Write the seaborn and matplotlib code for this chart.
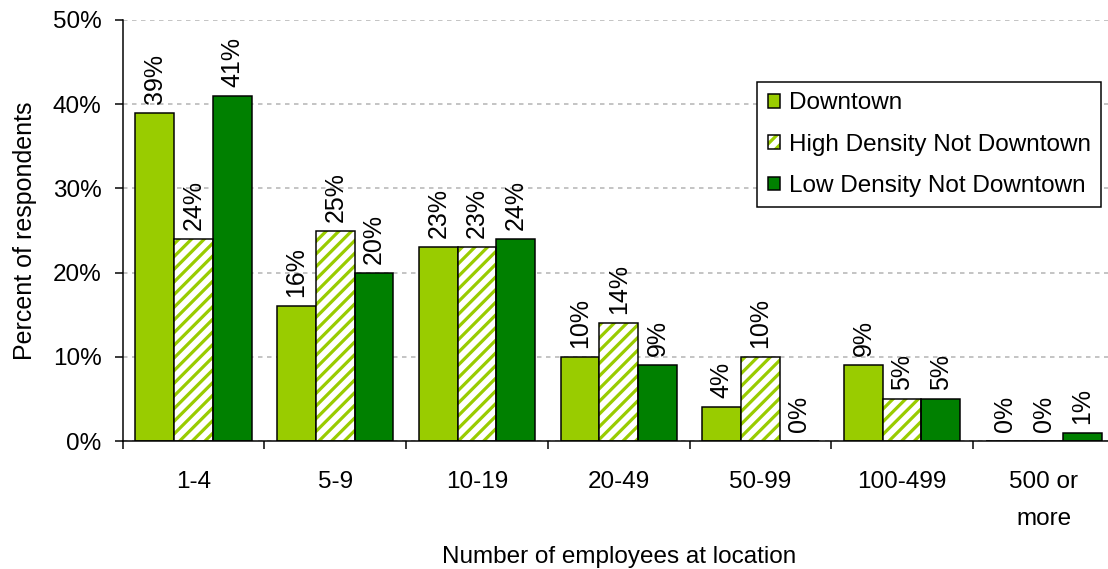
import numpy as np
import pandas as pd
import matplotlib
matplotlib.use("Agg")
import matplotlib.pyplot as plt
from matplotlib.patches import Patch, Rectangle
import seaborn as sns

# Survey results: share of respondents by number of employees at location
categories = ["1-4", "5-9", "10-19", "20-49", "50-99", "100-499", "500 or\nmore"]
downtown = [39, 16, 23, 10, 4, 9, 0]
high_density = [24, 25, 23, 14, 10, 5, 0]
low_density = [41, 20, 24, 9, 0, 5, 1]
series_names = ["Downtown", "High Density Not Downtown", "Low Density Not Downtown"]
yticks = [0, 10, 20, 30, 40, 50]

LIME = "#99CC00"
DARK = "#008000"

# Work in pixels: the hatch tile is one inch, so the dpi sets the stripe spacing
DPI = 152
W, H = 1108, 569


def px(v):
    """Convert a length in pixels to points."""
    return v * 72 / DPI


sns.set_style("white")
plt.rcParams["font.family"] = ["Liberation Sans", "DejaVu Sans"]
plt.rcParams["hatch.linewidth"] = px(3.2)
for key in ["text.color", "axes.labelcolor", "xtick.color", "ytick.color"]:
    plt.rcParams[key] = "black"

values = {series_names[0]: downtown, series_names[1]: high_density, series_names[2]: low_density}
df = pd.DataFrame(
    [(cat, name, vals[i]) for name, vals in values.items() for i, cat in enumerate(categories)],
    columns=["size", "location", "pct"],
)

FS = px(24.3)    # axis text
FS_LBL = px(25)  # value labels
EDGE = px(1.5)
HATCH = "////"

fig = plt.figure(figsize=(W / DPI, H / DPI), dpi=DPI)
ax = fig.add_axes([122.7 / W, 1 - 441 / H, 992 / W, 421 / H])

sns.barplot(
    data=df, x="size", y="pct", hue="location",
    order=categories, hue_order=series_names,
    palette=[LIME, "white", DARK], saturation=1, width=0.82,
    edgecolor="black", linewidth=EDGE, errorbar=None, legend=False, ax=ax,
)

# striped series: lime hatch on white, with a black outline on top
for bar in ax.containers[1]:
    bar.set_hatch(HATCH)
    bar.set_edgecolor(LIME)
    bar.set_linewidth(0)
    ax.add_patch(Rectangle(bar.get_xy(), bar.get_width(), bar.get_height(),
                           fill=False, edgecolor="black", linewidth=EDGE,
                           zorder=bar.get_zorder() + 0.1))

for cont, vals in zip(ax.containers, [downtown, high_density, low_density]):
    ax.bar_label(cont, labels=[f"{v}%" for v in vals], rotation=90,
                 padding=px(9), fontsize=FS_LBL, color="black")

ax.set_ylim(0, 50)
ax.set_xlim(-0.5, len(categories) - 0.5)
ax.set_yticks(yticks)
ax.set_yticklabels([f"{t}%" for t in yticks], fontsize=FS)
ax.set_xticks(range(len(categories)))
ax.set_xticklabels(categories, fontsize=FS, linespacing=1.9, va="top")
ax.set_xticks(np.arange(-0.5, len(categories), 1), minor=True)
ax.tick_params(axis="x", which="major", length=0, pad=px(30))
ax.tick_params(axis="x", which="minor", length=px(8), width=EDGE, color="black",
               direction="out", bottom=True)
ax.tick_params(axis="y", length=px(8), width=EDGE, color="black", direction="out",
               left=True, pad=px(13))

ax.yaxis.grid(True, linestyle=(0, (3, 3)), color="#b3b3b3", linewidth=px(1.5))
ax.xaxis.grid(False)
ax.set_axisbelow(True)

for side in ["top", "right"]:
    ax.spines[side].set_visible(False)
for side in ["left", "bottom"]:
    ax.spines[side].set_color("black")
    ax.spines[side].set_linewidth(EDGE)

ax.set_ylabel("Percent of respondents", fontsize=px(25), labelpad=px(16))
ax.set_xlabel("Number of employees at location", fontsize=FS, labelpad=px(16))

handles = [
    Patch(facecolor=LIME, edgecolor="black", linewidth=EDGE),
    (Patch(facecolor="white", edgecolor=LIME, hatch=HATCH, linewidth=0),
     Patch(fill=False, edgecolor="black", linewidth=EDGE)),
    Patch(facecolor=DARK, edgecolor="black", linewidth=EDGE),
]
leg = ax.legend(
    handles, series_names, loc="upper right",
    bbox_to_anchor=(1101 / W, 1 - 82 / H), bbox_transform=fig.transFigure,
    fontsize=FS, frameon=True, fancybox=False, framealpha=1, edgecolor="black",
    handlelength=0.5, handleheight=0.5, handletextpad=0.37, labelspacing=0.8,
    borderpad=0.42, borderaxespad=0,
)
leg.get_frame().set_linewidth(EDGE)

fig.savefig("out.png", dpi=DPI)
